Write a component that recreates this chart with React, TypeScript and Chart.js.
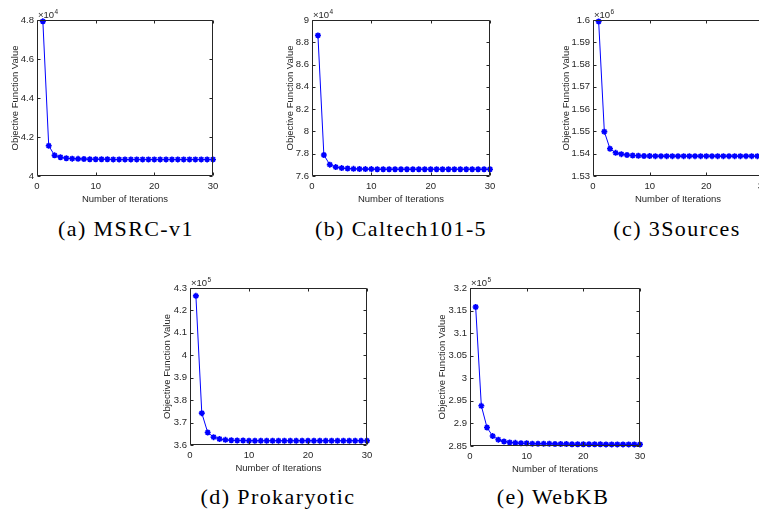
import React, { useEffect, useRef } from "react";
import { Chart, registerables } from "chart.js";
Chart.register(...registerables);

// ---------- data ----------
const iterations = [1, 2, 3, 4, 5, 6, 7, 8, 9, 10, 11, 12, 13, 14, 15, 16, 17, 18, 19, 20, 21, 22, 23, 24, 25, 26, 27, 28, 29, 30];
const xTicks = [0, 10, 20, 30];

const msrcV1 = [4.793, 4.155, 4.106, 4.096, 4.091, 4.089, 4.088, 4.087, 4.086, 4.086, 4.086, 4.086, 4.085, 4.085, 4.085, 4.085, 4.085, 4.085, 4.085, 4.085, 4.085, 4.085, 4.085, 4.085, 4.085, 4.085, 4.085, 4.085, 4.085, 4.085];
const msrcTicks = [4, 4.2, 4.4, 4.6, 4.8];

const caltech = [8.862, 7.789, 7.702, 7.68, 7.671, 7.667, 7.664, 7.663, 7.662, 7.662, 7.661, 7.661, 7.661, 7.661, 7.661, 7.661, 7.661, 7.661, 7.661, 7.661, 7.661, 7.661, 7.661, 7.661, 7.661, 7.661, 7.661, 7.661, 7.661, 7.661];
const caltechTicks = [7.6, 7.8, 8, 8.2, 8.4, 8.6, 8.8, 9];

const sources3 = [1.5993, 1.5499, 1.5422, 1.5404, 1.5398, 1.5394, 1.5392, 1.5391, 1.539, 1.539, 1.5389, 1.5389, 1.5389, 1.5389, 1.5389, 1.5389, 1.5389, 1.5389, 1.5389, 1.5389, 1.5389, 1.5389, 1.5389, 1.5389, 1.5389, 1.5389, 1.5389, 1.5389, 1.5389, 1.5389];
const sourcesTicks = [1.53, 1.54, 1.55, 1.56, 1.57, 1.58, 1.59, 1.6];

const prokaryotic = [4.265, 3.742, 3.656, 3.635, 3.627, 3.623, 3.621, 3.62, 3.62, 3.619, 3.619, 3.619, 3.619, 3.619, 3.619, 3.619, 3.619, 3.619, 3.619, 3.619, 3.619, 3.619, 3.619, 3.619, 3.619, 3.619, 3.619, 3.619, 3.619, 3.619];
const prokaryoticTicks = [3.6, 3.7, 3.8, 3.9, 4, 4.1, 4.2, 4.3];

const webkb = [3.158, 2.939, 2.891, 2.872, 2.864, 2.86, 2.858, 2.857, 2.856, 2.856, 2.855, 2.855, 2.855, 2.855, 2.8545, 2.8545, 2.8545, 2.854, 2.854, 2.854, 2.854, 2.854, 2.854, 2.8535, 2.8535, 2.8535, 2.8535, 2.8535, 2.8535, 2.8535];
const webkbTicks = [2.85, 2.9, 2.95, 3, 3.05, 3.1, 3.15, 3.2];

const captions = ["(a) MSRC-v1", "(b) Caltech101-5", "(c) 3Sources", "(d) Prokaryotic", "(e) WebKB"];
const exponents = [4, 4, 6, 5, 5];

const xTitle = "Number of Iterations";
const yTitle = "Objective Function Value";

// ---------- layout ----------
type Panel = {
  values: number[];
  yTicks: number[];
  exp: number;
  caption: string;
  box: { l: number; t: number; r: number; b: number };
  gap: number;
  capX: number;
  capTop: number;
};

const panels: Panel[] = [
  { values: msrcV1, yTicks: msrcTicks, exp: exponents[0], caption: captions[0], box: { l: 37, t: 20, r: 213, b: 176 }, gap: 22, capX: 126, capTop: 217.6 },
  { values: caltech, yTicks: caltechTicks, exp: exponents[1], caption: captions[1], box: { l: 312, t: 20, r: 490, b: 176 }, gap: 22, capX: 401, capTop: 217.6 },
  { values: sources3, yTicks: sourcesTicks, exp: exponents[2], caption: captions[2], box: { l: 593, t: 20, r: 763, b: 176 }, gap: 27, capX: 677, capTop: 217.6 },
  { values: prokaryotic, yTicks: prokaryoticTicks, exp: exponents[3], caption: captions[3], box: { l: 190, t: 288, r: 367, b: 445 }, gap: 23, capX: 278, capTop: 486 },
  { values: webkb, yTicks: webkbTicks, exp: exponents[4], caption: captions[4], box: { l: 470, t: 288, r: 640, b: 446 }, gap: 28, capX: 553, capTop: 486 },
];

const TOP = 20;
const RIGHT = 10;
const XH = 30;
const AX_COLOR = "#262626";
const SANS = "'Liberation Sans', Arial, Helvetica, sans-serif";

const fmt = (v: number) => parseFloat(Number(v).toFixed(4)).toString();

const boxPlugin = {
  id: "matlabBox",
  afterDraw(chart: any, _args: any, opts: any) {
    const { ctx, chartArea } = chart;
    const xs = chart.scales.x;
    const ys = chart.scales.y;
    const l = Math.round(chartArea.left) + 0.5;
    const r = Math.round(chartArea.right) - 0.5;
    const t = Math.round(chartArea.top) + 0.5;
    const b = Math.round(chartArea.bottom) - 0.5;
    ctx.save();
    ctx.strokeStyle = AX_COLOR;
    ctx.lineWidth = 1;
    ctx.beginPath();
    ctx.rect(l, t, r - l, b - t);
    const tl = 3;
    xs.ticks.forEach((tk: any) => {
      const px = Math.round(xs.getPixelForValue(tk.value)) + 0.5;
      ctx.moveTo(px, b);
      ctx.lineTo(px, b - tl);
      ctx.moveTo(px, t);
      ctx.lineTo(px, t + tl);
    });
    ys.ticks.forEach((tk: any) => {
      const py = Math.round(ys.getPixelForValue(tk.value)) + 0.5;
      ctx.moveTo(l, py);
      ctx.lineTo(l + tl, py);
      ctx.moveTo(r, py);
      ctx.lineTo(r - tl, py);
    });
    ctx.stroke();
    // exponent label
    ctx.fillStyle = AX_COLOR;
    ctx.textBaseline = "alphabetic";
    ctx.textAlign = "left";
    ctx.font = `9.5px ${SANS}`;
    const base = "\u00d710";
    ctx.fillText(base, chartArea.left + 1, chartArea.top - 2);
    const w = ctx.measureText(base).width;
    ctx.font = `6.5px ${SANS}`;
    ctx.fillText(String(opts.exp), chartArea.left + 1 + w + 0.5, chartArea.top - 6);
    ctx.restore();
  },
};

function PanelChart({ p }: { p: Panel }) {
  const ref = useRef<HTMLCanvasElement | null>(null);
  const yw = p.gap + 8;
  const width = yw + (p.box.r - p.box.l) + RIGHT;
  const height = TOP + (p.box.b - p.box.t) + XH;
  const left = p.box.l - yw;
  const top = p.box.t - TOP;

  useEffect(() => {
    if (!ref.current) return;
    const tickFont = { family: SANS, size: 9.5 };
    const titleFont = { family: SANS, size: 9.5 };
    const chart = new Chart(ref.current, {
      type: "line",
      data: {
        datasets: [
          {
            data: iterations.map((x, i) => ({ x, y: p.values[i] })),
            borderColor: "#0000ff",
            backgroundColor: "#0000ff",
            borderWidth: 1,
            pointStyle: "star",
            pointRadius: 3,
            pointBorderWidth: 1.6,
            pointBorderColor: "#0000ff",
            pointBackgroundColor: "#0000ff",
            tension: 0,
            clip: false as any,
          },
        ],
      },
      options: {
        animation: false,
        responsive: false,
        maintainAspectRatio: false,
        events: [],
        layout: { padding: { left: 0, top: TOP, right: RIGHT, bottom: 0 } },
        plugins: {
          legend: { display: false },
          tooltip: { enabled: false },
          matlabBox: { exp: p.exp },
        } as any,
        scales: {
          x: {
            type: "linear",
            min: 0,
            max: 30,
            grid: { display: false, drawTicks: false },
            border: { display: false },
            afterBuildTicks: (s: any) => {
              s.ticks = xTicks.map((v) => ({ value: v }));
            },
            afterFit: (s: any) => {
              s.height = XH;
              s.paddingLeft = 0;
              s.paddingRight = 0;
            },
            ticks: { padding: 4.5, font: tickFont, color: AX_COLOR, maxRotation: 0, autoSkip: false, callback: (v: any) => fmt(v) },
            title: { display: true, text: xTitle, font: titleFont, color: AX_COLOR, padding: { top: 0, bottom: 1.3 } },
          },
          y: {
            type: "linear",
            min: p.yTicks[0],
            max: p.yTicks[p.yTicks.length - 1],
            grid: { display: false, drawTicks: false },
            border: { display: false },
            afterBuildTicks: (s: any) => {
              s.ticks = p.yTicks.map((v) => ({ value: v }));
            },
            afterFit: (s: any) => {
              s.width = yw;
              s.paddingTop = 0;
              s.paddingBottom = 0;
            },
            ticks: { padding: 3, font: tickFont, color: AX_COLOR, autoSkip: false, callback: (v: any) => fmt(v) },
            title: { display: true, text: yTitle, font: titleFont, color: AX_COLOR, padding: { top: 2.3, bottom: 0 } },
          },
        },
      },
      plugins: [boxPlugin],
    } as any);
    return () => chart.destroy();
  }, []);

  return (
    <>
      <canvas
        ref={ref}
        width={width}
        height={height}
        style={{ position: "absolute", left, top, width, height }}
      />
      <div
        style={{
          position: "absolute",
          left: p.capX - 150,
          top: p.capTop,
          width: 300,
          textAlign: "center",
          fontFamily: "'Liberation Serif', 'Times New Roman', serif",
          fontSize: 22,
          lineHeight: "22px",
          letterSpacing: "1.4px",
          color: "#000",
          whiteSpace: "nowrap",
        }}
      >
        {p.caption}
      </div>
    </>
  );
}

export default function App() {
  return (
    <div
      style={{
        position: "fixed",
        left: 0,
        top: 0,
        width: 759,
        height: 510,
        overflow: "hidden",
        background: "#fff",
      }}
    >
      {panels.map((p, i) => (
        <PanelChart key={i} p={p} />
      ))}
    </div>
  );
}
